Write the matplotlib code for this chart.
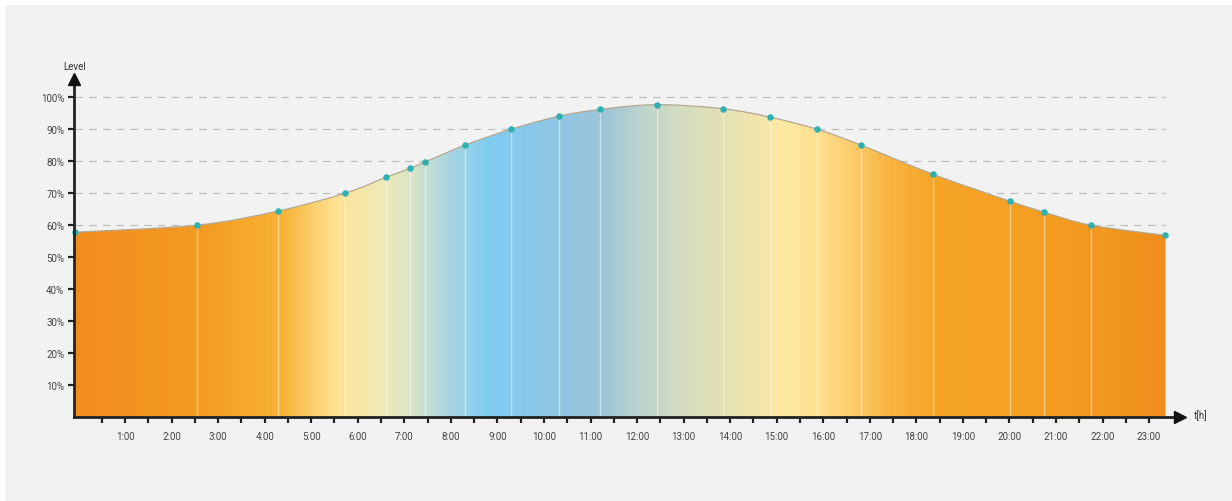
import numpy as np
import matplotlib
matplotlib.use("Agg")
import matplotlib.pyplot as plt
from matplotlib.path import Path
from matplotlib.patches import PathPatch, Rectangle
from matplotlib.colors import LinearSegmentedColormap

# ---- data ----
hours = [-0.07, 2.55, 4.28, 5.73, 6.61, 7.13, 7.45, 8.30, 9.29, 10.32, 11.21,
         12.43, 13.85, 14.85, 15.87, 16.82, 18.36, 20.01, 20.74, 21.75, 23.35]
level = [57.8, 60.0, 64.4, 70.0, 75.0, 77.8, 79.8, 85.0, 90.0, 94.1, 96.2,
         97.7, 96.4, 93.8, 90.0, 85.0, 75.9, 67.5, 64.1, 60.0, 56.8]
hour_ticks = list(range(1, 24))
hour_labels = [f"{h}:00" for h in hour_ticks]
level_ticks = [10, 20, 30, 40, 50, 60, 70, 80, 90, 100]
level_labels = [f"{v}%" for v in level_ticks]

# gradient colour stops (hour position, colour)
grad_pos = [-0.1, 2.6, 4.33, 5.55, 6.48, 7.12, 7.77, 8.73, 9.48, 10.35, 11.31,
            12.06, 12.92, 14.2, 15.18, 15.93, 16.68, 17.43, 18.4, 20.0, 21.73, 23.35]
grad_col = ["#F28C1F", "#F39B22", "#F8B236", "#FDE597", "#EFEAB6", "#D9E4C6",
            "#B3D8DD", "#7FCDF0", "#88CAEC", "#91C6E3", "#9DC5D6", "#BCD3CE",
            "#D3DCC0", "#EAE3B0", "#FDE9A2", "#FEE08F", "#FBCB68", "#F8B443",
            "#F6A527", "#F5A123", "#F39A21", "#F08E1E"]

plt.rcParams['font.family'] = ['Roboto', 'DejaVu Sans']

W, H = 1232, 502
fig = plt.figure(figsize=(W / 100, H / 100), dpi=100, facecolor="#F2F2F2")
fig.patches.append(Rectangle((0, 1 - 5 / H), 1, 5 / H, transform=fig.transFigure,
                             color="white", zorder=-10))
fig.patches.append(Rectangle((0, 0), 4 / W, 1, transform=fig.transFigure,
                             color="white", zorder=-10))

ax_l, ax_r, ax_b, ax_t = 74, 1180, 418, 80
ax = fig.add_axes([ax_l / W, (H - ax_b) / H, (ax_r - ax_l) / W, (ax_b - ax_t) / H])
ax.set_facecolor("none")
x0h = (ax_l - 78.45) / 46.55
x1h = (ax_r - 78.45) / 46.55
ax.set_xlim(x0h, x1h)
ax.set_ylim(0, (418.3 - ax_t) / 3.2)

# smooth curve via Catmull-Rom -> Bezier
x = np.array(hours)
y = np.array(level)
pts = np.column_stack([x, y])
n = len(pts)
verts = [(x[0], 0.0), (x[0], y[0])]
codes = [Path.MOVETO, Path.LINETO]
cverts = [(x[0], y[0])]
ccodes = [Path.MOVETO]
for i in range(n - 1):
    p0 = pts[max(i - 1, 0)]
    p1 = pts[i]
    p2 = pts[i + 1]
    p3 = pts[min(i + 2, n - 1)]
    c1 = p1 + (p2 - p0) / 6.0
    c2 = p2 - (p3 - p1) / 6.0
    for v in (c1, c2, p2):
        verts.append(tuple(v)); codes.append(Path.CURVE4)
        cverts.append(tuple(v)); ccodes.append(Path.CURVE4)
verts += [(x[-1], 0.0), (x[0], 0.0)]
codes += [Path.LINETO, Path.CLOSEPOLY]

# gridlines
ax.hlines(level_ticks, x[0], x[-1], colors="#BDBDBD", linewidth=0.9,
          linestyles=(0, (6, 5)), zorder=1)

fill_patch = PathPatch(Path(verts, codes), facecolor="none", edgecolor="none", zorder=2)
ax.add_patch(fill_patch)
cmap = LinearSegmentedColormap.from_list(
    "g", [((p - grad_pos[0]) / (grad_pos[-1] - grad_pos[0]), c) for p, c in zip(grad_pos, grad_col)])
grad = np.linspace(0, 1, 800).reshape(1, -1)
im = ax.imshow(grad, cmap=cmap, aspect="auto", extent=[grad_pos[0], grad_pos[-1], 0, 100],
               origin="lower", zorder=2, interpolation="bilinear")
im.set_clip_path(fill_patch)

# curve outline
ax.add_patch(PathPatch(Path(cverts, ccodes), facecolor="none", edgecolor="#B5A890",
                       linewidth=0.9, zorder=3))
# white verticals
ax.vlines(x[1:-1], 0, y[1:-1], colors="white", alpha=0.45, linewidth=1.0, zorder=3)
# points
ax.scatter(x, y, s=22, color="#2EB1B3", zorder=5, clip_on=False, linewidths=0)

# axes
for s in ("top", "right"):
    ax.spines[s].set_visible(False)
for s in ("left", "bottom"):
    ax.spines[s].set_linewidth(2.0)
    ax.spines[s].set_color("#222222")
    ax.spines[s].set_zorder(6)

ax.set_yticks(level_ticks)
ax.set_yticklabels(level_labels)
ax.set_xticks(hour_ticks)
ax.set_xticklabels(hour_labels)
ax.set_xticks([h + 0.5 for h in range(0, 23)], minor=True)
ax.tick_params(axis="both", which="both", direction="out", length=4, width=1.6,
               color="#222222", labelsize=7, labelcolor="#444444")
ax.tick_params(axis="x", which="major", pad=6)
ax.tick_params(axis="y", pad=3)

# arrows
ax.plot(1, 0, marker=">", color="#111111", markersize=9, transform=ax.transAxes,
        clip_on=False, zorder=7)
ax.plot(0, 1, marker="^", color="#111111", markersize=9, transform=ax.transAxes,
        clip_on=False, zorder=7)

fig.text(75 / W, 1 - 67 / H, "Level", ha="center", va="center", fontsize=7, color="#333333")
fig.text(1194 / W, 1 - 416 / H, "t[h]", ha="left", va="center", fontsize=7, color="#333333")

fig.savefig("out.png", dpi=100, facecolor=fig.get_facecolor())
